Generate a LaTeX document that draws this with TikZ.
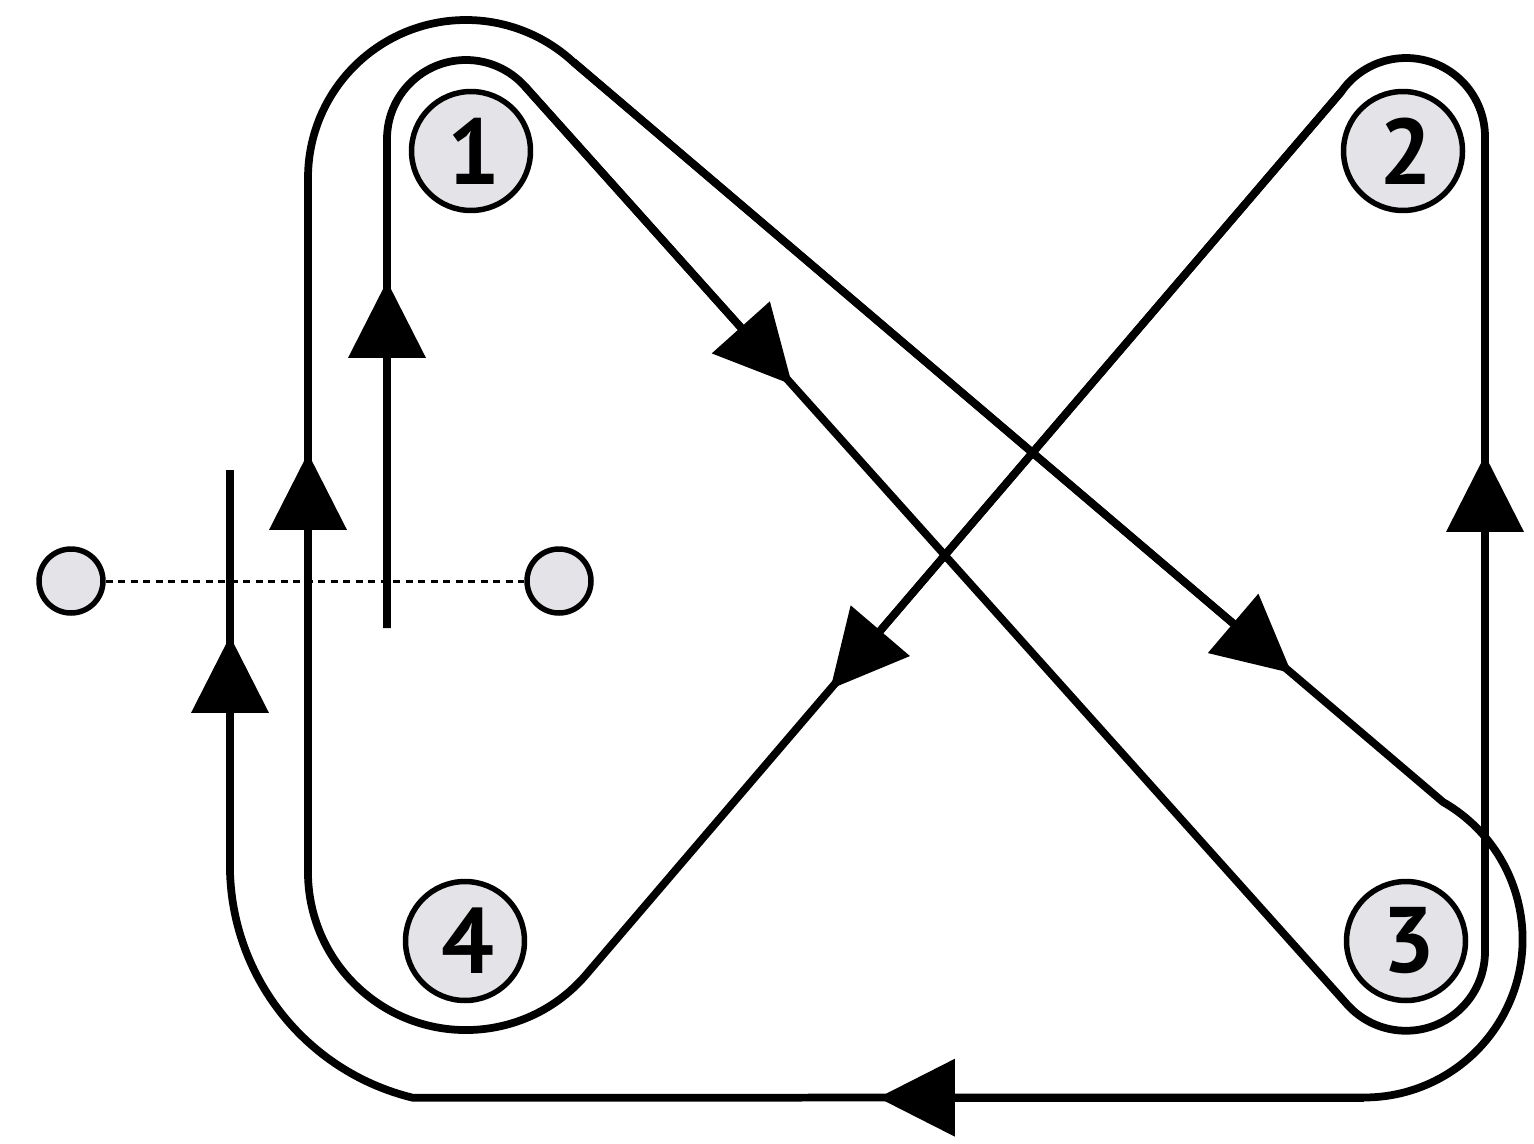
\documentclass[tikz,border=0pt]{standalone}
\usepackage{fontspec}
\setmainfont{PT Sans}
\usetikzlibrary{arrows.meta,calc}
\definecolor{poleGray}{HTML}{E4E3E7}

\begin{document}
\begin{tikzpicture}[
  x=.02cm, y=-.02cm,
  wire/.style={draw=black,line width=.155cm,line join=round},
  flowtip/.style={draw=black,line width=.155cm,-{Triangle[length=15.4mm 0 0,width=15.2mm 0 0]}},
  coil/.style={circle,draw=black,fill=poleGray,line width=.11cm,inner sep=0pt,minimum size=2.38cm,font=\fontsize{53}{53}\selectfont\bfseries,execute at begin node=\kern.12cm},
  pole/.style={circle,draw=black,fill=poleGray,line width=.11cm,inner sep=0pt,minimum size=1.28cm},
]
\useasboundingbox (0,0) rectangle (1534,1143);
\fill[white] (0,0) rectangle (1534,1143);

% terminals and the dotted link
\node[pole] (poleL) at (71,581) {};
\node[pole] (poleR) at (559,581) {};
\draw[line width=.06cm,dash pattern=on .14cm off .11cm] (poleL) -- (poleR);

% coils
\node[coil] (one) at (471,151) {1};
\node[coil] (two) at (1403,151) {2};
\node[coil] (three) at (1406,941) {3};
\node[coil] (four) at (465,941) {4};

% points where the winding changes from straight to arc
\coordinate (startA) at (387,628);
\coordinate (upA) at (387,139);
\coordinate (diagA) at (525,86.4);
\coordinate (diagB) at (1347,1004.3);
\coordinate (rightA) at (1485,951.7);
\coordinate (rightB) at (1485,137);
\coordinate (diagC) at (1341.3,91.7);
\coordinate (diagD) at (587,973.6);
\coordinate (leftA) at (308,872);
\coordinate (leftB) at (308,178);
\coordinate (diagE) at (573.5,62);
\coordinate (diagF) at (1443,802);
\coordinate (botA) at (1364.3,1097.7);
\coordinate (botB) at (412.7,1097.7);
\coordinate (outA) at (230,865);
\coordinate (endA) at (230,470);

% the winding
\path[wire]
  (startA) -- (upA) arc[start angle=180,end angle=318.3,radius=79]
  -- (diagB) arc[start angle=138.3,end angle=0,radius=79]
  -- (rightB) arc[start angle=0,end angle=-145,radius=79]
  -- (diagD) arc[start angle=40,end angle=180,radius=158]
  -- (leftB) arc[start angle=180,end angle=312.7,radius=158]
  -- (diagF) arc[start angle=-60.2,end angle=90,radius=158.2]
  -- (botB) arc[start angle=103.7,end angle=180,radius=239.5]
  -- (endA);

% arrowheads
\draw[flowtip] (startA) -- (387,281);
\draw[flowtip] (leftA) -- (308,453);
\draw[flowtip] (outA) -- (230,636);
\draw[flowtip] (rightA) -- (1485,455);
\draw[flowtip] (botA) -- (878,1097.7);
\draw[flowtip] (diagA) -- ($(diagA)!.325!(diagB)$);
\draw[flowtip] (diagE) -- ($(diagE)!.826!(diagF)$);
\draw[flowtip] (diagC) -- ($(diagC)!.6775!(diagD)$);
\end{tikzpicture}
\end{document}
